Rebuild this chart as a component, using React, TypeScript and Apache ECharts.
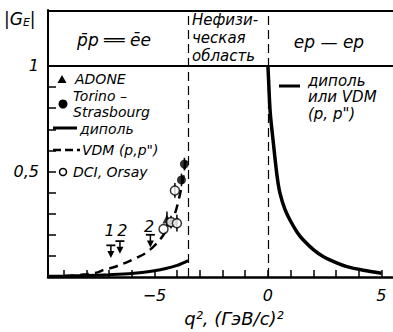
import React, { useEffect, useRef } from "react";
import * as echarts from "echarts";

// ---- data ----
const dipoleLeftX = [-9.7, -9.0, -8.0, -7.0, -6.0, -5.0, -4.5, -4.0, -3.52];
const dipoleLeftY = [0.003, 0.004, 0.007, 0.011, 0.017, 0.03, 0.04, 0.055, 0.078];

const vdmX = [-9.6, -9.0, -8.5, -8.0, -7.5, -7.25, -6.8, -6.5, -6.15, -5.8, -5.4, -5.1, -4.83, -4.6, -4.35, -4.1, -3.9, -3.75, -3.62];
const vdmY = [0.003, 0.005, 0.008, 0.013, 0.022, 0.033, 0.046, 0.058, 0.073, 0.09, 0.112, 0.138, 0.167, 0.2, 0.245, 0.3, 0.38, 0.46, 0.55];

const dipoleRightX = [0, 0.03, 0.1, 0.24, 0.4, 0.53, 0.75, 0.97, 1.3, 1.56, 2.0, 2.45, 3.0, 3.48, 4.2, 5.0];
const dipoleRightY = [1.0, 0.93, 0.78, 0.634, 0.48, 0.397, 0.32, 0.27, 0.21, 0.175, 0.13, 0.096, 0.068, 0.049, 0.032, 0.018];

const adoneX = [-4.45];
const adoneY = [0.275];
const adoneErr = [0.035];

const torinoX = [-3.68, -3.81];
const torinoY = [0.535, 0.46];
const torinoErr = [0.03, 0.03];

const dciX = [-4.1, -4.27, -4.01, -4.6];
const dciY = [0.41, 0.26, 0.255, 0.227];
const dciErr = [0.035, 0.03, 0.04, 0];

const ulX = [-6.92, -6.52, -5.18];
const ulTop = [0.15, 0.17, 0.2];
const ulTip = [0.09, 0.11, 0.14];
const ulLabels = ["1", "2", "2"];
const ulLabelX = [-6.98, -6.42, -5.24];
const ulLabelY = [0.22, 0.22, 0.24];

const thresholdX = -3.52; // 4M²
const physX = 0;

const xTicks = [-9, -8, -7, -6, -5, -4, -3, -2, -1, 0, 1, 2, 3, 4, 5];
const xTickLabels = [-5, 0, 5];
const yTicks = [0.1, 0.2, 0.3, 0.4, 0.5, 0.6, 0.7, 0.8, 0.9, 1.0];
const yTickLabels = [0.5, 1];

const X_MIN = -9.69;
const X_MAX = 5.51;
const Y_MAX = 1.265;

const FONT = "DejaVu Sans";

const zip = (xs: number[], ys: number[]) => xs.map((x, i) => [x, ys[i]]);

export default function App() {
  const ref = useRef<HTMLDivElement>(null);

  useEffect(() => {
    if (!ref.current) return;
    const chart = echarts.init(ref.current, undefined, { renderer: "svg" });

    const errData: number[][] = [];
    adoneX.forEach((x, i) => adoneErr[i] > 0 && errData.push([x, adoneY[i] - adoneErr[i], adoneY[i] + adoneErr[i]]));
    torinoX.forEach((x, i) => torinoErr[i] > 0 && errData.push([x, torinoY[i] - torinoErr[i], torinoY[i] + torinoErr[i]]));
    dciX.forEach((x, i) => dciErr[i] > 0 && errData.push([x, dciY[i] - dciErr[i], dciY[i] + dciErr[i]]));

    const ulData = ulX.map((x, i) => [x, ulTop[i], ulTip[i], ulLabelX[i], ulLabelY[i]]);

    const textStyle = (text: string, size = 14, lineHeight?: number) => ({
      text,
      fill: "#000",
      font: `italic ${size}px "${FONT}"`,
      ...(lineHeight ? { lineHeight } : {}),
    });

    const option: any = {
      animation: false,
      backgroundColor: "#fff",
      grid: { left: 48, right: 0, top: 10, bottom: 55, containLabel: false, outerBoundsMode: "none" },
      xAxis: {
        type: "value",
        min: X_MIN,
        max: X_MAX,
        axisLine: { show: true, onZero: false, lineStyle: { color: "#000", width: 2.5 } },
        axisTick: { show: true, inside: true, length: 7, customValues: xTicks, lineStyle: { color: "#000", width: 1.5 } },
        axisLabel: {
          customValues: xTickLabels,
          formatter: (v: number) => (v < 0 ? "−" + Math.abs(v) : String(v)),
          color: "#000",
          fontFamily: FONT,
          fontStyle: "italic",
          fontSize: 16,
          margin: 10,
        },
        splitLine: { show: false },
      },
      yAxis: {
        type: "value",
        min: 0,
        max: Y_MAX,
        axisLine: { show: true, onZero: false, lineStyle: { color: "#000", width: 2 } },
        axisTick: { show: true, inside: true, length: 8, customValues: yTicks, lineStyle: { color: "#000", width: 1.5 } },
        axisLabel: {
          customValues: yTickLabels,
          formatter: (v: number) => (v === 1 ? "1" : String(v).replace(".", ",")),
          color: "#000",
          fontFamily: FONT,
          fontStyle: "italic",
          fontSize: 16,
          margin: 9,
        },
        splitLine: { show: false },
      },
      series: [
        {
          type: "line",
          name: "dipole-left",
          data: zip(dipoleLeftX, dipoleLeftY),
          showSymbol: false,
          smooth: 0.3,
          lineStyle: { color: "#000", width: 3 },
          z: 3,
          markLine: {
            silent: true,
            symbol: "none",
            label: { show: false },
            data: [
              { xAxis: thresholdX, lineStyle: { color: "#000", width: 1.2, type: [9, 5] } },
              { xAxis: physX, lineStyle: { color: "#000", width: 1.2, type: [9, 5] } },
              { yAxis: 1, lineStyle: { color: "#000", width: 2, type: "solid" } },
              { yAxis: Y_MAX, lineStyle: { color: "#000", width: 2, type: "solid" } },
            ],
          },
        },
        {
          type: "line",
          name: "vdm",
          data: zip(vdmX, vdmY),
          showSymbol: false,
          smooth: 0.3,
          lineStyle: { color: "#000", width: 2.5, type: [9, 6] },
          z: 3,
        },
        {
          type: "line",
          name: "dipole-right",
          data: zip(dipoleRightX, dipoleRightY),
          showSymbol: false,
          smooth: 0.3,
          lineStyle: { color: "#000", width: 3.5 },
          z: 3,
        },
        {
          type: "custom",
          name: "errors",
          data: errData,
          z: 4,
          renderItem: (params: any, api: any) => {
            const p1 = api.coord([api.value(0), api.value(1)]);
            const p2 = api.coord([api.value(0), api.value(2)]);
            return {
              type: "line",
              shape: { x1: p1[0], y1: p1[1], x2: p2[0], y2: p2[1] },
              style: { stroke: "#000", lineWidth: 1.5 },
            };
          },
        },
        {
          type: "custom",
          name: "upper-limits",
          data: ulData,
          z: 4,
          renderItem: (params: any, api: any) => {
            const top = api.coord([api.value(0), api.value(1)]);
            const tip = api.coord([api.value(0), api.value(2)]);
            const lab = api.coord([api.value(3), api.value(4)]);
            const x = top[0];
            return {
              type: "group",
              children: [
                { type: "line", shape: { x1: x - 4.5, y1: top[1], x2: x + 4.5, y2: top[1] }, style: { stroke: "#000", lineWidth: 1.8 } },
                { type: "line", shape: { x1: x, y1: top[1], x2: x, y2: tip[1] - 5 }, style: { stroke: "#000", lineWidth: 1.5 } },
                { type: "polygon", shape: { points: [[x - 3.5, tip[1] - 7], [x + 3.5, tip[1] - 7], [x, tip[1]]] }, style: { fill: "#000" } },
                {
                  type: "text",
                  x: lab[0],
                  y: lab[1],
                  style: { text: ulLabels[params.dataIndex], fill: "#000", font: `italic 16px "${FONT}"`, align: "center", verticalAlign: "middle" },
                },
              ],
            };
          },
        },
        {
          type: "scatter",
          name: "ADONE",
          data: zip(adoneX, adoneY),
          symbol: "triangle",
          symbolSize: 9,
          itemStyle: { color: "#000" },
          z: 5,
        },
        {
          type: "scatter",
          name: "Torino-Strasbourg",
          data: zip(torinoX, torinoY),
          symbol: "circle",
          symbolSize: 9,
          itemStyle: { color: "#000" },
          z: 5,
        },
        {
          type: "scatter",
          name: "DCI, Orsay",
          data: zip(dciX, dciY),
          symbol: "circle",
          symbolSize: 9,
          itemStyle: { color: "#fff", borderColor: "#000", borderWidth: 1.5 },
          z: 5,
        },
      ],
      graphic: [
        // y axis title
        {
          type: "text",
          left: 4,
          top: 10,
          style: {
            text: "|G{s|E}|",
            fill: "#000",
            font: `italic 17px "${FONT}"`,
            rich: { s: { fontSize: 11, fontStyle: "italic", fontFamily: FONT, verticalAlign: "bottom", padding: [8, 0, 0, 0] } },
          },
        },
        // region labels
        { type: "text", x: 114, y: 40, style: { ...textStyle("p̄p ══ ēe", 17), align: "center", verticalAlign: "middle" } },
        { type: "text", x: 192, y: 38, style: { ...textStyle("Нефизи-\nческая\nобласть", 15, 18), verticalAlign: "middle" } },
        { type: "text", x: 329, y: 42, style: { ...textStyle("ep — ep", 17), align: "center", verticalAlign: "middle" } },
        // left legend
        { type: "polygon", shape: { points: [[57.5, 83], [66.5, 83], [62, 75]] }, style: { fill: "#000" } },
        { type: "text", x: 75, y: 79, style: { ...textStyle("ADONE", 14), verticalAlign: "middle" } },
        { type: "circle", shape: { cx: 63, cy: 104, r: 4.5 }, style: { fill: "#000" } },
        { type: "text", x: 73, y: 104, style: { ...textStyle("Torino –\nStrasbourg", 14, 16), verticalAlign: "middle" } },
        { type: "line", shape: { x1: 53, y1: 128, x2: 77, y2: 128 }, style: { stroke: "#000", lineWidth: 3 } },
        { type: "text", x: 80, y: 129, style: { ...textStyle("диполь", 14), verticalAlign: "middle" } },
        { type: "line", shape: { x1: 53, y1: 150, x2: 80, y2: 150 }, style: { stroke: "#000", lineWidth: 2.5, lineDash: [8, 4] } },
        { type: "text", x: 82, y: 150, style: { ...textStyle("VDM (p,p\")", 14), verticalAlign: "middle" } },
        { type: "circle", shape: { cx: 63, cy: 172, r: 3.5 }, style: { fill: "#fff", stroke: "#000", lineWidth: 1.5 } },
        { type: "text", x: 73, y: 172, style: { ...textStyle("DCI, Orsay", 14), verticalAlign: "middle" } },
        // right legend
        { type: "line", shape: { x1: 279, y1: 86, x2: 300, y2: 86 }, style: { stroke: "#000", lineWidth: 3 } },
        { type: "text", x: 308, y: 97, style: { ...textStyle("диполь\nили VDM\n(p, p\")", 15, 16.5), verticalAlign: "middle" } },
        // x axis title
        { type: "text", x: 234, y: 318, style: { ...textStyle("q², (ГэВ/c)²", 18), align: "center", verticalAlign: "middle" } },
      ],
    };

    chart.setOption(option);
    return () => chart.dispose();
  }, []);

  return (
    <div
      ref={ref}
      style={{ position: "fixed", left: 0, top: 0, width: 393, height: 332, background: "#fff" }}
    />
  );
}
